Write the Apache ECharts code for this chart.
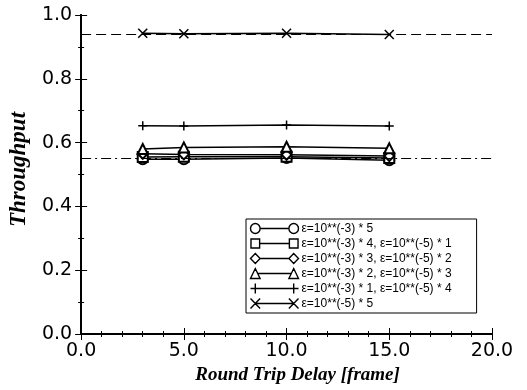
<!DOCTYPE html>
<html><head><meta charset="utf-8">
<script src="https://cdn.jsdelivr.net/npm/echarts@6/dist/echarts.min.js"></script>
<style>html,body{margin:0;padding:0;background:#fff}#c{width:527px;height:390px}</style>
</head><body><div id="c"></div>
<script>
const delays = [3, 5, 10, 15];
const names = [
  'ε=10**(-3) * 5',
  'ε=10**(-3) * 4, ε=10**(-5) * 1',
  'ε=10**(-3) * 3, ε=10**(-5) * 2',
  'ε=10**(-3) * 2, ε=10**(-5) * 3',
  'ε=10**(-3) * 1, ε=10**(-5) * 4',
  'ε=10**(-5) * 5'
];
const circleVals   = [0.548, 0.548, 0.552, 0.545];
const squareVals   = [0.555, 0.556, 0.556, 0.552];
const diamondVals  = [0.565, 0.563, 0.562, 0.558];
const triangleVals = [0.580, 0.585, 0.587, 0.582];
const plusVals     = [0.653, 0.652, 0.655, 0.652];
const crossVals    = [0.943, 0.941, 0.943, 0.939];
const upperRef = 0.943;
const lowerRef = 0.552;
const xTicks = [0, 5, 10, 15, 20];

const PLUS = 'path://M0,5L10,5M5,0L5,10';
const CROSS = 'path://M0,0L10,10M0,10L10,0';
const valsList = [circleVals, squareVals, diamondVals, triangleVals, plusVals, crossVals];
const symbols = ['emptyCircle', 'emptyRect', 'emptyDiamond', 'emptyTriangle', PLUS, CROSS];

// legend icons: symbol at both ends joined by a line (box 50 x 12)
const LINE = 'M5,6L45,6';
const legendIcons = [
  'path://M0,6A5,5 0 1,1 10,6A5,5 0 1,1 0,6M40,6A5,5 0 1,1 50,6A5,5 0 1,1 40,6M10,6L40,6M0,1L0,1M50,11L50,11',
  'path://M0.5,1.5L9.5,1.5L9.5,10.5L0.5,10.5ZM40.5,1.5L49.5,1.5L49.5,10.5L40.5,10.5ZM9.5,6L40.5,6M0,1L0,1M50,11L50,11',
  'path://M0,6L5,1L10,6L5,11ZM40,6L45,1L50,6L45,11ZM10,6L40,6M0,1L0,1M50,11L50,11',
  'path://M0,11L5,1L10,11ZM40,11L45,1L50,11ZM7.5,6L42.5,6M0,1L0,1M50,11L50,11',
  'path://M0,6L50,6M5,1L5,11M45,1L45,11',
  'path://M0,1L10,11M0,11L10,1M40,1L50,11M40,11L50,1' + LINE
];

const series = valsList.map((v, i) => {
  const isPath = symbols[i].startsWith('path');
  return {
    name: names[i], type: 'line',
    data: delays.map((d, j) => [d, v[j]]),
    symbol: symbols[i], symbolSize: isPath ? 9 : 10,
    lineStyle: {color: '#000', width: 1.5},
    itemStyle: isPath ? {color: 'none', borderColor: '#000', borderWidth: 1.5}
                      : {color: '#000', borderColor: '#000', borderWidth: 1.8},
    z: 3
  };
});
series.push({
  type: 'line', data: [], silent: true,
  markLine: {
    symbol: 'none', silent: true, label: {show: false},
    data: [
      {yAxis: upperRef, lineStyle: {type: [10, 5], color: '#000', width: 1}},
      {yAxis: lowerRef, lineStyle: {type: [10, 4, 2, 4], color: '#000', width: 1}}
    ]
  }
});

const axisCommon = {
  axisLine: {show: true, lineStyle: {color: '#000', width: 2}},
  axisTick: {show: true, inside: true, length: 6, lineStyle: {color: '#000', width: 1}},
  minorTick: {show: true, splitNumber: 5, length: 3, lineStyle: {color: '#000'}},
  splitLine: {show: false}
};
const tickFont = {fontFamily: 'DejaVu Sans', fontSize: 19, color: '#000'};
const titleFont = {fontFamily: 'Liberation Serif, Times New Roman', fontStyle: 'italic', fontWeight: 'bold', color: '#000'};

const chart = echarts.init(document.getElementById('c'), null, {renderer: 'canvas'});
chart.setOption({
  animation: false,
  grid: {left: 80, right: 35, top: 15, bottom: 55},
  legend: {
    orient: 'vertical', left: 246, top: 219,
    data: names.map((n, i) => ({name: n, icon: legendIcons[i]})),
    itemWidth: 48, itemHeight: 10, itemGap: 0, symbolKeepAspect: false,
    itemStyle: {color: 'none', borderColor: '#000', borderWidth: 1.4},
    lineStyle: {color: '#000'},
    borderColor: '#000', borderWidth: 1, padding: [2, 25, 2, 2],
    backgroundColor: '#fff',
    textStyle: {fontFamily: 'Liberation Sans, Arial', fontSize: 12, color: '#000', padding: [0, 0, 0, -2]}
  },
  xAxis: [
    Object.assign({}, axisCommon, {
      type: 'value', min: 0, max: 20, interval: 5,
      name: 'Round Trip Delay [frame]', nameLocation: 'middle', nameGap: 32,
      nameTextStyle: Object.assign({fontSize: 19, padding: [0, 0, 0, 22]}, titleFont),
      axisLabel: Object.assign({margin: 8, formatter: v => xTicks.includes(v) ? v.toFixed(1) : ''}, tickFont)
    }),
    Object.assign({}, axisCommon, {
      type: 'value', min: 0, max: 20, interval: 5, position: 'top',
      axisLabel: {show: false}
    })
  ],
  yAxis: [
    Object.assign({}, axisCommon, {
      type: 'value', min: 0, max: 1, interval: 0.2,
      minorTick: {show: true, splitNumber: 2, length: 3, lineStyle: {color: '#000'}},
      name: 'Throughput', nameLocation: 'middle', nameGap: 46,
      nameTextStyle: Object.assign({fontSize: 23, padding: [0, 0, 0, 10]}, titleFont),
      axisLabel: Object.assign({margin: 9, formatter: v => v.toFixed(1)}, tickFont)
    }),
    Object.assign({}, axisCommon, {
      type: 'value', min: 0, max: 1, interval: 0.2, position: 'right',
      minorTick: {show: true, splitNumber: 2, length: 3, lineStyle: {color: '#000'}},
      axisLabel: {show: false}
    })
  ],
  series: series
});
</script></body></html>
